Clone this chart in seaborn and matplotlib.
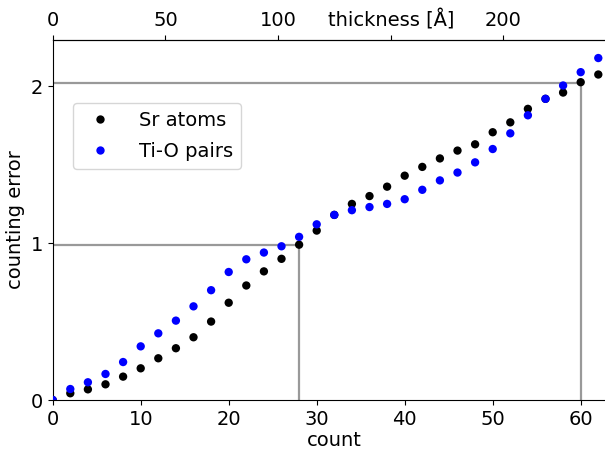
import matplotlib
matplotlib.use("Agg")
import matplotlib.pyplot as plt
import seaborn as sns
import pandas as pd
import numpy as np

counts = [0, 2, 4, 6, 8, 10, 12, 14, 16, 18, 20, 22, 24, 26, 28, 30, 32, 34, 36, 38,
          40, 42, 44, 46, 48, 50, 52, 54, 56, 58, 60, 62]
sr_atoms = [0.0, 0.043, 0.068, 0.10, 0.149, 0.202, 0.266, 0.33, 0.40, 0.50, 0.62, 0.73,
            0.82, 0.90, 0.99, 1.08, 1.18, 1.25, 1.30, 1.36, 1.43, 1.486, 1.54, 1.59,
            1.63, 1.707, 1.77, 1.856, 1.92, 1.96, 2.026, 2.075]
tio_pairs = [0.0, 0.07, 0.113, 0.166, 0.242, 0.342, 0.425, 0.506, 0.597, 0.70, 0.816,
             0.897, 0.94, 0.98, 1.04, 1.12, 1.18, 1.21, 1.23, 1.25, 1.28, 1.34, 1.40,
             1.45, 1.515, 1.60, 1.70, 1.815, 1.92, 2.005, 2.09, 2.18]
series_names = ["Sr atoms", "Ti-O pairs"]
guide_count = [28, 60]
guide_error = [0.99, 2.024]
x_ticks = [0, 10, 20, 30, 40, 50, 60]
y_ticks = [0, 1, 2]
top_ticks = [0, 50, 100, 150, 200]
top_labels = ["0", "50", "100", "thickness [Å]", "200"]
angstrom_per_count = 3.905

df = pd.DataFrame({
    "count": counts * 2,
    "error": sr_atoms + tio_pairs,
    "series": [series_names[0]] * len(counts) + [series_names[1]] * len(counts),
})

sns.set_style("ticks")
plt.rcParams["font.family"] = ["DejaVu Sans"]
plt.rcParams["font.size"] = 14
for key in ["text.color", "axes.labelcolor", "xtick.color", "ytick.color", "axes.edgecolor"]:
    plt.rcParams[key] = "black"
plt.rcParams["xtick.major.size"] = 3.5
plt.rcParams["ytick.major.size"] = 3.5

fig = plt.figure(figsize=(6.05, 4.49), dpi=100)
ax = fig.add_axes([52.7 / 605, 49 / 449, 563.2 / 605, 360 / 449])

for gx, gy in zip(guide_count, guide_error):
    ax.plot([0, gx], [gy, gy], color="#999999", lw=1.6, zorder=1)
    ax.plot([gx, gx], [0, gy], color="#999999", lw=1.6, zorder=1)

sns.scatterplot(data=df, x="count", y="error", hue="series",
                palette={series_names[0]: "black", series_names[1]: "blue"},
                s=36, edgecolor="none", ax=ax, zorder=3)

ax.set_xlim(0, 64)
ax.set_ylim(0, 2.295)
ax.set_xticks(x_ticks)
ax.set_yticks(y_ticks)
ax.tick_params(labelsize=14)
ax.set_xlabel("count", fontsize=14, labelpad=2)
ax.set_ylabel("counting error", fontsize=14)
ax.spines["right"].set_visible(False)

leg = ax.legend(loc="upper left", bbox_to_anchor=(0.036, 0.825), borderaxespad=0,
                fontsize=14, handletextpad=1.0, labelspacing=0.62, frameon=True)

sec = ax.secondary_xaxis("top", functions=(lambda c: c * angstrom_per_count,
                                           lambda t: t / angstrom_per_count))
sec.set_xticks(top_ticks)
sec.set_xticklabels(top_labels)
sec.tick_params(labelsize=14)

fig.savefig("out.png", dpi=100)
